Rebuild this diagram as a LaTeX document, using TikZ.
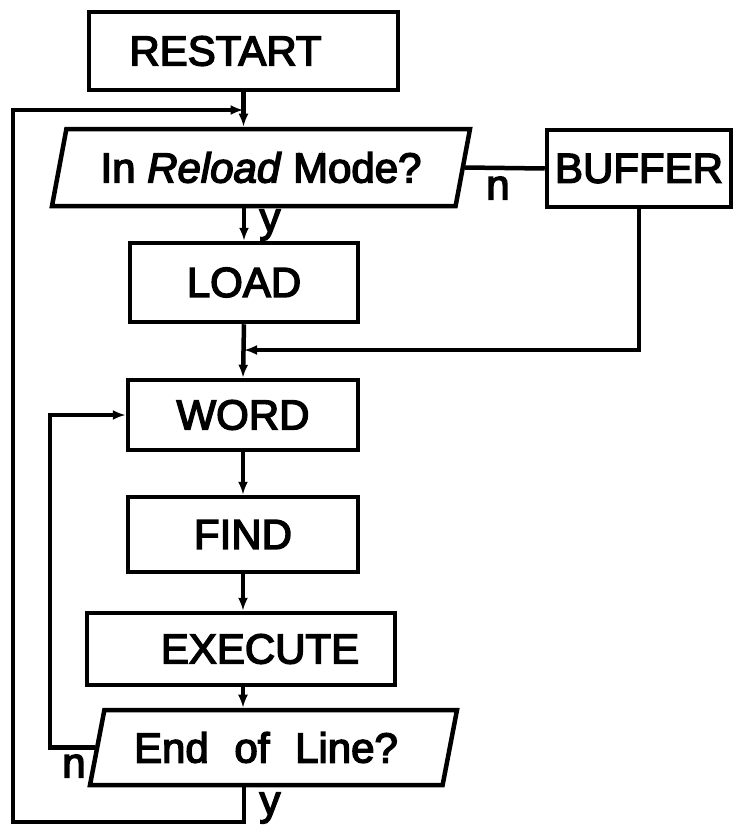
\documentclass[tikz,border=0pt]{standalone}
\usepackage{fontspec}
\setmainfont{Liberation Sans}[FakeBold=3.5]
\usetikzlibrary{arrows.meta,shapes.geometric}
\newcommand\lblfont{\fontsize{42}{50}\selectfont}
\tikzset{
  stepbox/.style={draw, rectangle, line width=4.5pt, inner sep=0pt, font=\lblfont},
  parabox/.style={draw, trapezium, trapezium left angle=65, trapezium right angle=115,
    trapezium stretches body, line width=4.5pt, inner sep=0pt, font=\lblfont},
  conn/.style={line width=4.5pt, line join=miter},
  arr/.style={conn, -{Latex[length=13pt,width=10pt]}},
  lbl/.style={inner sep=0pt, font=\lblfont},
}
\begin{document}
\begin{tikzpicture}[x=1pt,y=-1pt]
\useasboundingbox (0,0) rectangle (734,830);
% nodes
\node[stepbox, minimum width=309pt, minimum height=78pt] (restart) at (243.5,51) {RESTART\hspace*{36pt}};
\node[parabox, minimum width=418pt, minimum height=77pt] (rm) at (261,167.5) {In \textit{Reload} Mode?};
\node[stepbox, minimum width=184pt, minimum height=77pt] (buffer) at (639,168.5) {BUFFER};
\node[stepbox, minimum width=228pt, minimum height=79pt] (load) at (244,282.5) {LOAD};
\node[stepbox, minimum width=230pt, minimum height=70pt] (word) at (243,415) {WORD};
\node[stepbox, minimum width=230pt, minimum height=75pt] (find) at (243,534.5) {FIND};
\node[stepbox, minimum width=308pt, minimum height=72pt] (execute) at (241,649) {\hspace*{38pt}EXECUTE};
\node[parabox, minimum width=367pt, minimum height=75pt] (eol) at (273.5,747.5) {End\hspace{14pt} of\hspace{14pt} Line?\hspace*{15pt}};
% helper coordinates
\coordinate (yb) at (244,822);
\coordinate (lt) at (13,110);
\coordinate (nl) at (50,740);
\coordinate (bj) at (244,350);
% connectors
\draw[arr] (restart.south) -- (restart.south |- rm.north);
\draw[conn] (rm.east) -- (buffer.west);
\draw[arr] (load.north |- rm.south) -- (load.north);
\draw[arr] (buffer.south) |- (bj);
\draw[arr] (load.south) -- (word.north);
\draw[arr] (word.south) -- (find.north);
\draw[arr] (find.south) -- (find.south |- execute.north);
\draw[arr] (find.south |- execute.south) -- (find.south |- eol.north);
\draw[arr] (eol.west) -- (nl |- eol.west) |- (word.west);
\draw[arr] (yb |- eol.south) -- (yb) -| (lt) -- (restart.south |- lt);
% labels
\node[lbl] (ly1) at (270,225) {y};
\node[lbl] (ln1) at (498,188) {n};
\node[lbl] (ln2) at (74,766) {n};
\node[lbl] (ly2) at (270,808) {y};
\end{tikzpicture}
\end{document}
